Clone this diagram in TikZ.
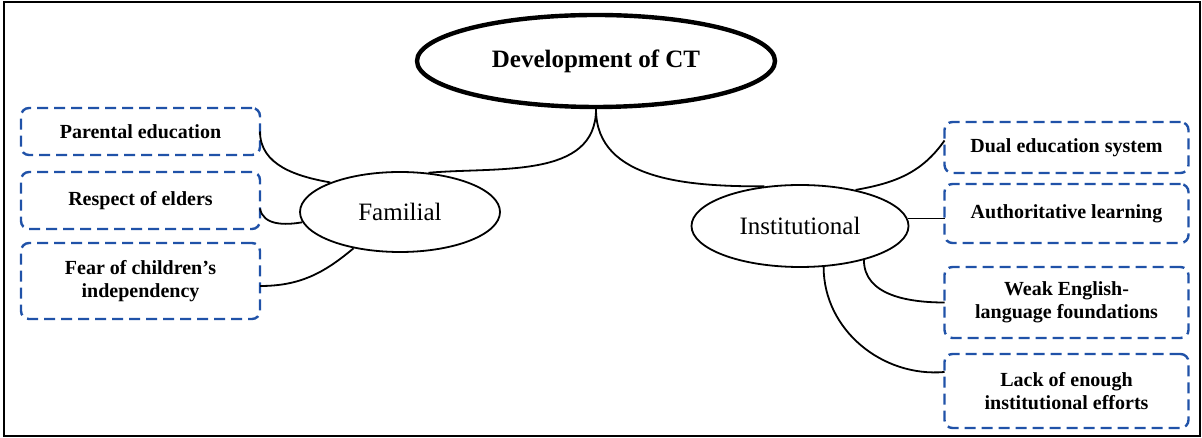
\documentclass[tikz,border=0pt]{standalone}
\usepackage{fontspec}
\setmainfont{Liberation Serif}
\usetikzlibrary{positioning,shapes.geometric}
\definecolor{boxblue}{RGB}{32,82,168}

\begin{document}
\begin{tikzpicture}[
  x=0.5pt, y=0.5pt,
  node distance=8pt,
  item/.style={draw=boxblue, line width=1.2pt, dash pattern=on 5.5pt off 3pt, rounded corners=4pt,
    align=center, inner sep=2pt, outer sep=0pt, font=\fontsize{10}{11.5}\selectfont\bfseries},
  leftitem/.style={item, minimum width=119.5pt},
  rightitem/.style={item, minimum width=122pt},
  topic/.style={ellipse, draw, line width=0.9pt, inner sep=0pt, font=\fontsize{12.5}{15}\selectfont},
  link/.style={line width=0.9pt}
]
  \useasboundingbox (0,0) rectangle (1202,438);
  \draw[line width=0.8pt] (4,2) rectangle (1200,436);

  \node[topic, line width=2.2pt, minimum width=179pt, minimum height=46pt,
    font=\fontsize{12.5}{15}\selectfont\bfseries] (dev) at (596,377) {Development of CT};
  \node[topic, minimum width=100pt, minimum height=40pt] (fam) at (400,226) {Familial};
  \node[topic, minimum width=108.5pt, minimum height=41pt] (inst) at (800,212) {Institutional};

  \node[leftitem, minimum height=23.5pt] (parent) at (140.5,306.5) {Parental education};
  \node[leftitem, minimum height=28.5pt, below=8.5pt of parent] (respect) {Respect of elders};
  \node[leftitem, minimum height=38pt, below=7pt of respect] (fear) {Fear of children’s\\independency};

  \node[rightitem, minimum height=25.5pt] (dual) at (1066.5,290.5) {Dual education system};
  \node[rightitem, minimum height=29.5pt, below=5.5pt of dual] (auth) {Authoritative learning};
  \node[rightitem, minimum height=35.5pt, below=12pt of auth] (weak) {Weak English-\\language foundations};
  \node[rightitem, minimum height=37pt, below=8pt of weak] (lack) {Lack of enough\\institutional efforts};

  \draw[link] (dev.south) to[out=-90, in=5] (fam.54);
  \draw[link] (dev.south) to[out=-90, in=180] (inst.132);

  \draw[link] (parent.east) to[out=-90, in=170] (fam.157);
  \draw[link] ([yshift=-4pt]respect.east) to[out=-80, in=190] (fam.186);
  \draw[link] ([yshift=-2.5pt]fear.east) to[out=0, in=-140] (fam.218);

  \draw[link] (inst.33) to[out=10, in=-125] ([yshift=3.5pt]dual.west);
  \draw[link] (inst.4) -- (inst.4 -| auth.west);
  \draw[link] (inst.-28) to[out=-90, in=180] (weak.west);
  \draw[link] (inst.-60) to[out=-90, in=185] ([yshift=9.5pt]lack.west);
\end{tikzpicture}
\end{document}
